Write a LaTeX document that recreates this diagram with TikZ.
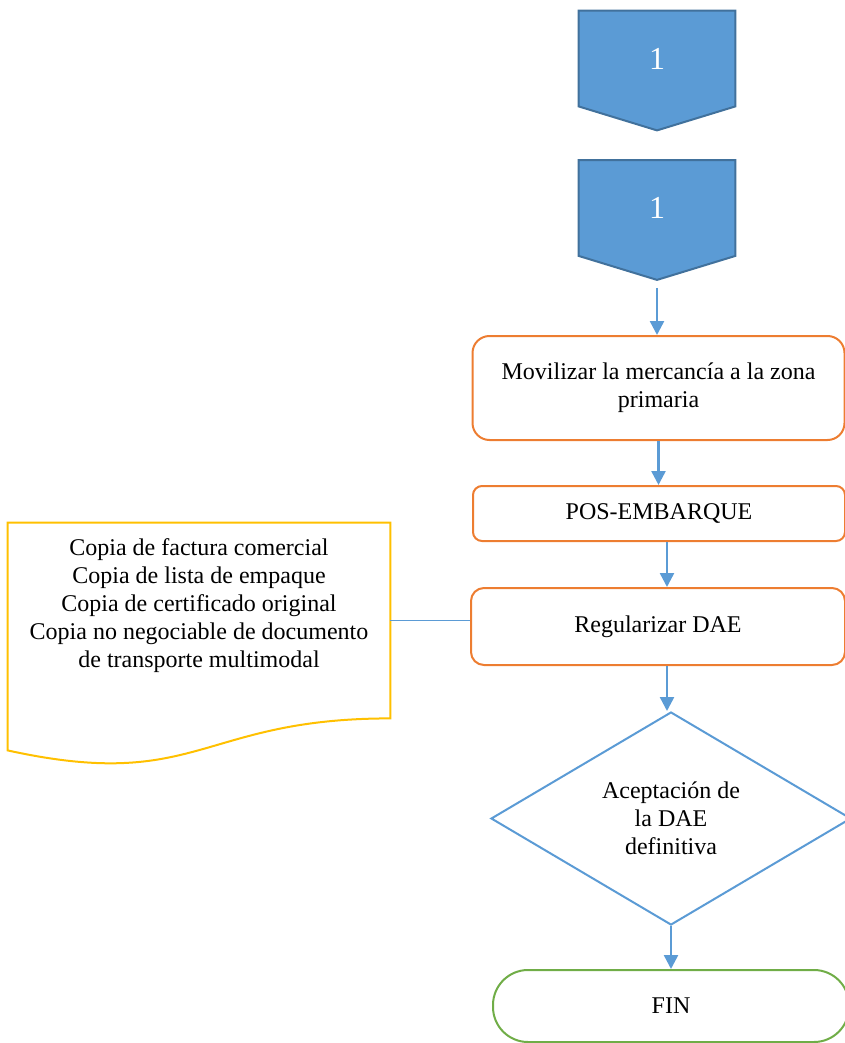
\documentclass[tikz,border=0pt]{standalone}
\usepackage{fontspec}
\setmainfont{Liberation Serif}
\usetikzlibrary{arrows.meta,shapes.geometric}
\pgfdeclarelayer{background}
\pgfsetlayers{background,main}
\definecolor{wblue}{HTML}{5B9BD5}
\definecolor{wblueline}{HTML}{41719C}
\definecolor{worange}{HTML}{ED7D31}
\definecolor{wyellow}{HTML}{FFC000}
\definecolor{wgreen}{HTML}{70AD47}

\begin{document}
\begin{tikzpicture}[
    x=0.5pt, y=-0.5pt,
    every node/.style={font=\fontsize{12}{14}\selectfont, align=center, inner sep=0pt},
    offpage/.style={minimum width=78pt, minimum height=47.5pt, text=white, font=\fontsize{16}{19}\selectfont},
    process/.style={draw=worange, line width=1pt, minimum width=186pt},
    decision/.style={diamond, draw=wblue, line width=1pt, aspect=1.69, minimum width=180pt, minimum height=106.5pt},
    terminal/.style={draw=wgreen, line width=1pt, rounded corners=17.5pt, minimum width=178pt, minimum height=36pt},
    arrow/.style={-{Triangle[width=7pt,length=7pt]}, wblue, line width=1.25pt},
    link/.style={wblue, line width=0.6pt}
]
\useasboundingbox (0,0) rectangle (845,1043);
\clip (0,0) rectangle (845,1043);

\node[offpage] (c1) at (657,58.5) {1};
\node[offpage] (c2) at (657,208) {1};
\begin{pgfonlayer}{background}
\foreach \c in {c1,c2}
  \filldraw[fill=wblue, draw=wblueline, line width=1pt] (\c.north west) -- (\c.north east) -- (\c.south east)
    -- ([yshift=-12pt]\c.south) -- (\c.south west) -- cycle;
\end{pgfonlayer}
\coordinate (c2tip) at ([yshift=-12pt]c2.south);

\node[process, rounded corners=8.5pt, minimum height=52pt] (mov) at (658.5,388) {Movilizar la mercancía a la zona\\ primaria};
\node[process, rounded corners=4.5pt, minimum height=27.5pt] (pos) at (659,513.5) {POS-EMBARQUE};
\node[process, rounded corners=6.5pt, minimum width=187pt, minimum height=38.5pt] (reg) at (658,626.5) {Regularizar DAE};
\node[decision] (dec) at (671,818.5) {Aceptación de\\ la DAE\\ definitiva};
\node[terminal] (fin) at (671,1006) {FIN};

\node[minimum width=191pt, minimum height=97.5pt] (docs) at (199,620.5) {};
\node[anchor=north] (doclist) at ([yshift=-8pt]docs.north) {Copia de factura comercial\\
    Copia de lista de empaque\\
    Copia de certificado original\\
    Copia no negociable de documento\\
    de transporte multimodal};
\draw[wyellow, line width=1pt] (docs.north west) -- (docs.north east) -- (docs.south east)
    .. controls (docs.south) and ([yshift=-37pt]docs.south) .. ([yshift=-16pt]docs.south west) -- cycle;

\draw[arrow, shorten <=4pt] (c2tip) -- (c2tip |- mov.north);
\draw[arrow] (mov.south) -- (mov.south |- pos.north);
\draw[arrow] ([xshift=4pt]pos.south) -- ([xshift=4pt]pos.south |- reg.north);
\draw[arrow] ([xshift=4.5pt]reg.south) -- ([xshift=4.5pt]reg.south |- dec.north);
\draw[arrow] (dec.south) -- (fin.north);
\draw[link] (docs.east) -- (docs.east -| reg.west);
\end{tikzpicture}
\end{document}
